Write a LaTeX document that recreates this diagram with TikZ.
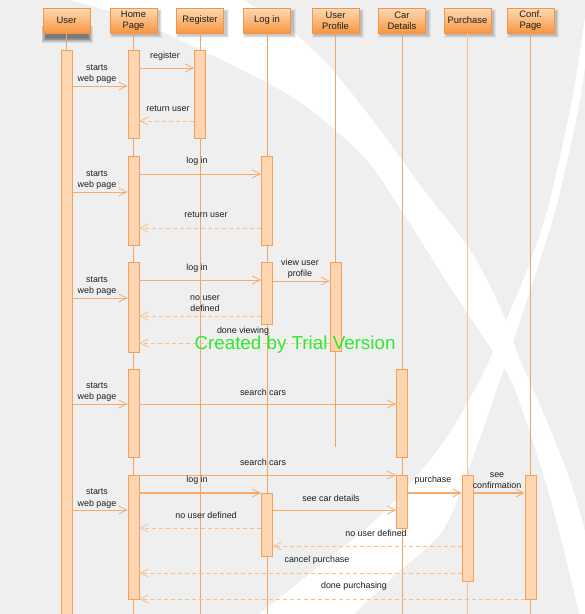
\documentclass[tikz,border=0pt]{standalone}
\usepackage{fontspec}
\setmainfont{Liberation Sans}
\usetikzlibrary{arrows.meta}
\definecolor{bg}{HTML}{EFEFEF}
\definecolor{lifec}{HTML}{F2A466}
\definecolor{lifepu}{HTML}{F0C39E}
\definecolor{barfill}{HTML}{FDD5B1}
\definecolor{barline}{HTML}{F4A15E}
\definecolor{msgc}{HTML}{F6AA6B}
\definecolor{retc}{HTML}{F9BE8C}
\definecolor{headtop}{HTML}{FDDAB6}
\definecolor{headbot}{HTML}{F7963F}
\definecolor{headline}{HTML}{F59448}
\definecolor{txt}{HTML}{1E1E1E}
\definecolor{wm}{HTML}{2EEA2E}
\tikzset{
 head/.style={draw=headline, line width=0.8pt, top color=headtop, bottom color=headbot,
   minimum width=47pt, minimum height=25pt, inner sep=0pt,
   font=\fontsize{9.4}{11}\selectfont, text=txt, align=center},
 life/.style={draw=lifec, line width=0.8pt},
 bar/.style={draw=barline, fill=barfill, line width=0.8pt, minimum width=11pt, inner sep=0pt, anchor=north},
 msg/.style={draw=msgc, line width=0.8pt, -{Straight Barb[length=8pt,width=8pt,line width=0.8pt]}},
 ret/.style={msg, draw=retc, dash pattern=on 4pt off 3pt},
 lbl/.style={font=\fontsize{8.9}{11.5}\selectfont, text=txt, align=center, inner sep=0pt},
}
\begin{document}
\begin{tikzpicture}[x=1pt,y=-1pt]
\useasboundingbox (0,0) rectangle (585,614);
\fill[bg] (0,0) rectangle (585,614);
% background swooshes
\begin{scope}
\clip (0,0) rectangle (585,614);
\fill[white] plot[smooth] coordinates {(230,-8) (290,30) (330,67) (380,130) (420,185) (470,250) (500,307) (520,360) (540,405) (570,480) (592,560) (600,620)}
  -- plot[smooth] coordinates {(582,625) (550,497) (515,390) (490,347) (450,287) (400,208) (363,156) (300,102) (230,64) (130,18) (40,-8)} -- cycle;
\fill[white] plot[smooth] coordinates {(586,10) (572,100) (550,200) (531,260) (502,330) (480,380) (440,447) (383,513) (323,563) (245,625)}
  -- plot[smooth] coordinates {(342,625) (395,575) (443,530) (472,460) (500,380) (517,330) (540,260) (558,200) (580,100) (592,10)} -- cycle;
\end{scope}
% header shadows
\foreach \d in {0,0.75,...,4.5}
  \fill[black,opacity=0.09] (46-\d,30-\d) rectangle (88+\d,38+\d);
\foreach \x in {133.5,200,267,335.5,402,467.5,530.5}
  \foreach \d/\o in {0/0.10,1/0.07,2/0.05}
    \fill[black,opacity=\o] (\x-22-\d,11-\d) rectangle (\x+26.5+\d,35.5+\d);
% headers
\node[head] (hU) at (66.5,20.5) {User};
\node[head] (hH) at (133.5,20.5) {Home\\Page};
\node[head] (hR) at (200,20.5) {Register};
\node[head] (hL) at (267,20.5) {Log in};
\node[head] (hP) at (335.5,20.5) {User\\Profile};
\node[head] (hC) at (402,20.5) {Car\\Details};
\node[head] (hPu) at (467.5,20.5) {Purchase};
\node[head] (hCP) at (530.5,20.5) {Conf.\\Page};
% lifelines
\draw[life] (hU.south) -- (hU.south |- 0,614);
\draw[life] (hH.south) -- (hH.south |- 0,614);
\draw[life] (hR.south) -- (hR.south |- 0,614);
\draw[life] (hL.south) -- (hL.south |- 0,614);
\draw[life] (hP.south) -- (hP.south |- 0,447);
\draw[life] (hC.south) -- (hC.south |- 0,614);
\draw[life, draw=lifepu, line width=1.6pt] (hPu.south) -- (hPu.south |- 0,614);
\draw[life] (hCP.south) -- (hCP.south |- 0,614);
% activation bars
\node[bar, minimum height=575pt] (U) at (66.5,50) {};
\node[bar, minimum height=88pt] (H1) at (133.5,50) {};
\node[bar, minimum height=88pt] (R1) at (200,50) {};
\node[bar, minimum height=89pt] (H2) at (133.5,156) {};
\node[bar, minimum height=89pt] (L1) at (267,156) {};
\node[bar, minimum height=90pt] (H3) at (133.5,262) {};
\node[bar, minimum height=62pt] (L2) at (267,262) {};
\node[bar, minimum height=89pt] (P1) at (335.5,262) {};
\node[bar, minimum height=88pt] (H4) at (133.5,369) {};
\node[bar, minimum height=88pt] (C1) at (402,369) {};
\node[bar, minimum height=124pt] (H5) at (133.5,475) {};
\node[bar, minimum height=53pt] (C2) at (402,475) {};
\node[bar, minimum height=63pt] (L3) at (267,493) {};
\node[bar, minimum height=106pt] (Pu1) at (467.5,475) {};
\node[bar, minimum height=124pt] (CP1) at (530.5,475) {};
% messages
\draw[msg] (U.east |- 0,86) -- (H1.west |- 0,86);
\draw[msg] (H1.east |- 0,68) -- (R1.west |- 0,68);
\draw[ret] (R1.west |- 0,121) -- (H1.east |- 0,121);
\draw[msg] (U.east |- 0,192) -- (H2.west |- 0,192);
\draw[msg] (H2.east |- 0,174) -- (L1.west |- 0,174);
\draw[ret] (L1.west |- 0,228) -- (H2.east |- 0,228);
\draw[msg] (U.east |- 0,298) -- (H3.west |- 0,298);
\draw[msg] (H3.east |- 0,280) -- (L2.west |- 0,280);
\draw[msg] (L2.east |- 0,281) -- (P1.west |- 0,281);
\draw[ret] (L2.west |- 0,316) -- (H3.east |- 0,316);
\draw[ret] (P1.west |- 0,343) -- (H3.east |- 0,343);
\draw[msg] (U.east |- 0,404) -- (H4.west |- 0,404);
\draw[msg] (H4.east |- 0,404) -- (C1.west |- 0,404);
\draw[msg] (H5.east |- 0,475) -- (C2.west |- 0,475);
\draw[msg] (U.east |- 0,510) -- (H5.west |- 0,510);
\draw[msg, line width=1.2pt] (H5.east |- 0,493) -- (L3.west |- 0,493);
\draw[msg] (L3.east |- 0,510) -- (C2.west |- 0,510);
\draw[msg, line width=1.2pt] (C2.east |- 0,493) -- (Pu1.west |- 0,493);
\draw[msg, line width=1.2pt] (Pu1.east |- 0,493) -- (CP1.west |- 0,493);
\draw[ret] (L3.west |- 0,528) -- (H5.east |- 0,528);
\draw[ret] (Pu1.west |- 0,546) -- (L3.east |- 0,546);
\draw[ret] (Pu1.west |- 0,573) -- (H5.east |- 0,573);
\draw[ret] (CP1.west |- 0,599) -- (H5.east |- 0,599);
% labels
\node[lbl] (t1) at (97,74) {starts\\web page};
\node[lbl] (t2) at (165,56) {register};
\node[lbl] (t3) at (168,109) {return user};
\node[lbl] (t4) at (97,180) {starts\\web page};
\node[lbl] (t5) at (197,161) {log in};
\node[lbl] (t6) at (206,215) {return user};
\node[lbl] (t7) at (97,286) {starts\\web page};
\node[lbl] (t8) at (197,268) {log in};
\node[lbl] (t9) at (300,268.5) {view user\\profile};
\node[lbl] (t10) at (205,303.5) {no user\\defined};
\node[lbl] (t11) at (243,331) {done viewing};
\node[lbl] (t12) at (97,392) {starts\\web page};
\node[lbl] (t13) at (263,392) {search cars};
\node[lbl] (t14) at (263,462) {search cars};
\node[lbl] (t15) at (97,498.5) {starts\\web page};
\node[lbl] (t16) at (197,480) {log in};
\node[lbl] (t17) at (331,498) {see car details};
\node[lbl] (t18) at (433,480) {purchase};
\node[lbl] (t19) at (497,480.5) {see\\confirmation};
\node[lbl] (t20) at (206,515) {no user defined};
\node[lbl] (t21) at (376,533) {no user defined};
\node[lbl] (t22) at (317,560) {cancel purchase};
\node[lbl] (t23) at (354,586) {done purchasing};
% watermark
\node[text=wm, font=\fontsize{18.8}{20}\selectfont, inner sep=0pt] (wmk) at (295,345) {Created by Trial Version};
\end{tikzpicture}
\end{document}
